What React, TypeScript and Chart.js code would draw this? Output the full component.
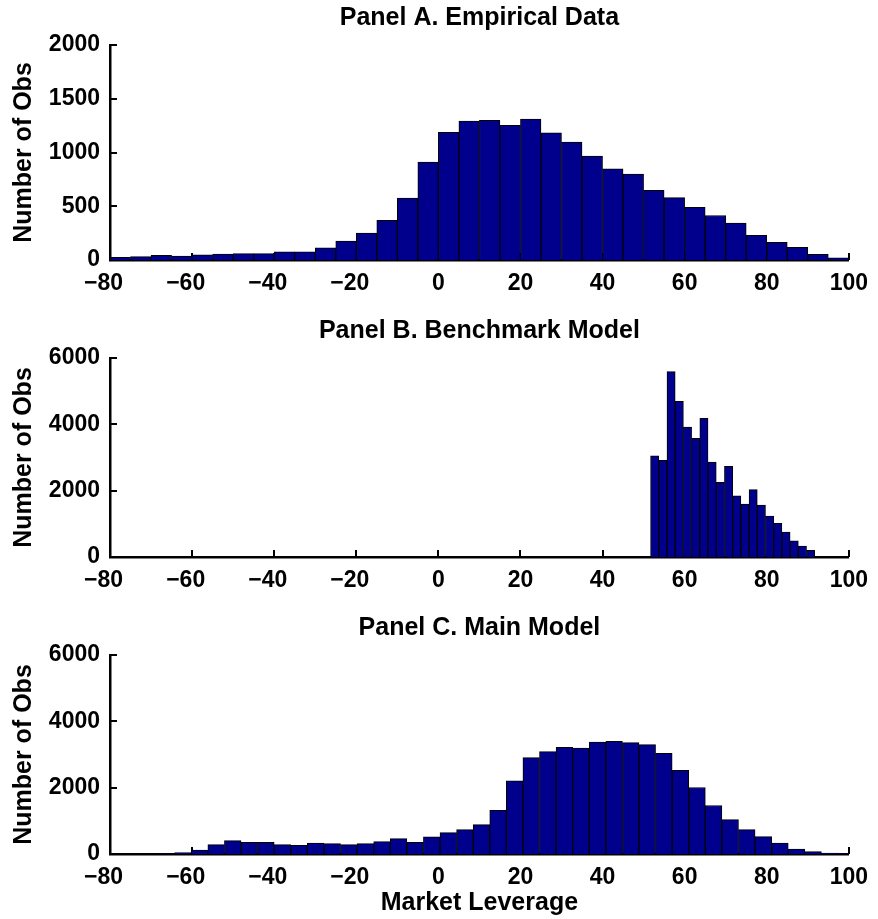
import React, { useEffect, useRef } from 'react';
import { Chart, registerables } from 'chart.js';

Chart.register(...registerables);

const FONT = "'Liberation Sans', Arial, Helvetica, sans-serif";
const BAR_FILL = 'rgb(0,0,140)';

// x axis ticks shared by all panels
const X_TICKS = [-80, -60, -40, -20, 0, 20, 40, 60, 80, 100];
const Y_LABEL = 'Number of Obs';
const X_LABEL = 'Market Leverage';

// Panel A. Empirical Data (bin width 5)
const PANEL_A_TITLE = 'Panel A. Empirical Data';
const PANEL_A_CENTERS = [
  -77.5, -72.5, -67.5, -62.5, -57.5, -52.5, -47.5, -42.5, -37.5, -32.5, -27.5, -22.5,
  -17.5, -12.5, -7.5, -2.5, 2.5, 7.5, 12.5, 17.5, 22.5, 27.5, 32.5, 37.5,
  42.5, 47.5, 52.5, 57.5, 62.5, 67.5, 72.5, 77.5, 82.5, 87.5, 92.5, 97.5,
];
const PANEL_A_COUNTS = [
  25, 31, 43, 37, 49, 55, 59, 59, 77, 77, 114, 176,
  250, 370, 577, 910, 1188, 1293, 1299, 1253, 1312, 1182, 1096, 966,
  849, 799, 648, 580, 491, 414, 343, 229, 164, 118, 53, 21,
];
const PANEL_A_YTICKS = [0, 500, 1000, 1500, 2000];

// Panel B. Benchmark Model (bin width 2)
const PANEL_B_TITLE = 'Panel B. Benchmark Model';
const PANEL_B_CENTERS = [
  52.7, 54.7, 56.7, 58.7, 60.7, 62.7, 64.7, 66.7, 68.7, 70.7,
  72.7, 74.7, 76.7, 78.7, 80.7, 82.7, 84.7, 86.7, 88.7, 90.7,
];
const PANEL_B_COUNTS = [
  3054, 2913, 5587, 4692, 3919, 3576, 4180, 2864, 2250, 2733,
  1848, 1598, 2029, 1568, 1236, 1013, 754, 491, 332, 199,
];
const PANEL_B_YTICKS = [0, 2000, 4000, 6000];

// Panel C. Main Model (bin width ~4.04)
const PANEL_C_TITLE = 'Panel C. Main Model';
const PANEL_C_CENTERS = [
  -78.38, -74.34, -70.3, -66.26, -62.22, -58.18, -54.14, -50.1, -46.06, -42.02,
  -37.98, -33.94, -29.9, -25.86, -21.82, -17.78, -13.74, -9.7, -5.66, -1.62,
  2.42, 6.46, 10.5, 14.54, 18.58, 22.62, 26.66, 30.7, 34.74, 38.78,
  42.82, 46.86, 50.9, 54.94, 58.98, 63.02, 67.06, 71.1, 75.14, 79.18,
  83.22, 87.26, 91.3, 95.34, 99.38,
];
const PANEL_C_COUNTS = [
  0, 0, 0, 5, 40, 120, 281, 402, 352, 352,
  281, 262, 332, 312, 281, 312, 372, 463, 352, 514,
  645, 736, 887, 1320, 2209, 2905, 3087, 3217, 3196, 3377,
  3398, 3358, 3298, 3035, 2521, 2006, 1462, 1038, 736, 524,
  332, 151, 70, 25, 15,
];
const PANEL_C_YTICKS = [0, 2000, 4000, 6000];

const inwardTicks = {
  id: 'inwardTicks',
  beforeDatasetsDraw(chart: any) {
    const { ctx, chartArea, scales } = chart;
    const xs = scales.x;
    const ys = scales.y;
    ctx.save();
    ctx.strokeStyle = '#000';
    ctx.lineWidth = 2;
    ctx.beginPath();
    xs.ticks.forEach((t: any) => {
      const px = Math.round(xs.getPixelForValue(t.value));
      ctx.moveTo(px, chartArea.bottom);
      ctx.lineTo(px, chartArea.bottom - 7);
    });
    ys.ticks.forEach((t: any) => {
      const py = Math.round(ys.getPixelForValue(t.value));
      ctx.moveTo(chartArea.left, py);
      ctx.lineTo(chartArea.left + 7, py);
    });
    ctx.stroke();
    ctx.restore();
  },
};

const fmtX = (v: number) => (v < 0 ? '\u2212' + Math.abs(v) + '\u00a0\u00a0' : String(v));

type PanelProps = {
  top: number;
  height: number;
  xScaleHeight: number;
  title: string;
  centers: number[];
  counts: number[];
  yTicks: number[];
  showXLabel?: boolean;
};

function Panel({ top, height, xScaleHeight, title, centers, counts, yTicks, showXLabel }: PanelProps) {
  const ref = useRef<HTMLCanvasElement | null>(null);
  useEffect(() => {
    if (!ref.current) return;
    const tickFont = { family: FONT, size: 23, weight: 'bold' as const, lineHeight: 1.2 };
    const labelFont = { family: FONT, size: 25, weight: 'bold' as const, lineHeight: 1.2 };
    const chart = new Chart(ref.current, {
      type: 'bar',
      data: {
        datasets: [
          {
            data: centers.map((c, i) => ({ x: c, y: counts[i] })),
            backgroundColor: BAR_FILL,
            borderColor: '#000',
            borderWidth: 1,
            barPercentage: 1,
            categoryPercentage: 1,
          } as any,
        ],
      },
      options: {
        responsive: false,
        animation: false,
        devicePixelRatio: 1,
        layout: { padding: { left: 0, right: 26, top: 0, bottom: 0 } },
        plugins: {
          legend: { display: false },
          tooltip: { enabled: false },
          title: {
            display: true,
            text: title,
            fullSize: false,
            color: '#000',
            font: labelFont,
            padding: { top: 3, bottom: 12 },
          },
        },
        scales: {
          x: {
            type: 'linear',
            min: -80,
            max: 100,
            offset: false,
            afterFit: (s: any) => {
              s.height = xScaleHeight;
            },
            afterBuildTicks: (s: any) => {
              s.ticks = X_TICKS.map((v) => ({ value: v }));
            },
            grid: { display: false, drawTicks: false, offset: false },
            border: { display: true, color: '#000', width: 2.5 },
            ticks: {
              autoSkip: false,
              maxRotation: 0,
              padding: 10,
              color: '#000',
              font: tickFont,
              callback: (v: any) => fmtX(Number(v)),
            },
            title: {
              display: !!showXLabel,
              text: X_LABEL,
              color: '#000',
              font: labelFont,
              padding: { top: 0, bottom: 1 },
            },
          },
          y: {
            min: yTicks[0],
            max: yTicks[yTicks.length - 1],
            afterFit: (s: any) => {
              s.width = 110;
            },
            afterBuildTicks: (s: any) => {
              s.ticks = yTicks.map((v) => ({ value: v }));
            },
            grid: { display: false, drawTicks: false },
            border: { display: true, color: '#000', width: 2.5 },
            ticks: {
              padding: 10,
              color: '#000',
              font: tickFont,
              callback: (v: any) => String(v),
            },
            title: {
              display: true,
              text: Y_LABEL,
              color: '#000',
              font: labelFont,
              padding: { top: 9, bottom: 0 },
            },
          },
        },
      } as any,
      plugins: [inwardTicks],
    });
    return () => chart.destroy();
  }, []);
  return (
    <canvas
      ref={ref}
      width={878}
      height={height}
      style={{ position: 'absolute', left: 0, top, width: 878, height, display: 'block' }}
    />
  );
}

export default function App() {
  return (
    <div style={{ position: 'absolute', left: 0, top: 0, width: 878, height: 919, background: '#fff', overflow: 'hidden' }}>
      <Panel top={0} height={300} xScaleHeight={40} title={PANEL_A_TITLE} centers={PANEL_A_CENTERS} counts={PANEL_A_COUNTS} yTicks={PANEL_A_YTICKS} />
      <Panel top={313} height={290} xScaleHeight={46} title={PANEL_B_TITLE} centers={PANEL_B_CENTERS} counts={PANEL_B_COUNTS} yTicks={PANEL_B_YTICKS} />
      <Panel top={610} height={309} xScaleHeight={65} title={PANEL_C_TITLE} centers={PANEL_C_CENTERS} counts={PANEL_C_COUNTS} yTicks={PANEL_C_YTICKS} showXLabel />
    </div>
  );
}
